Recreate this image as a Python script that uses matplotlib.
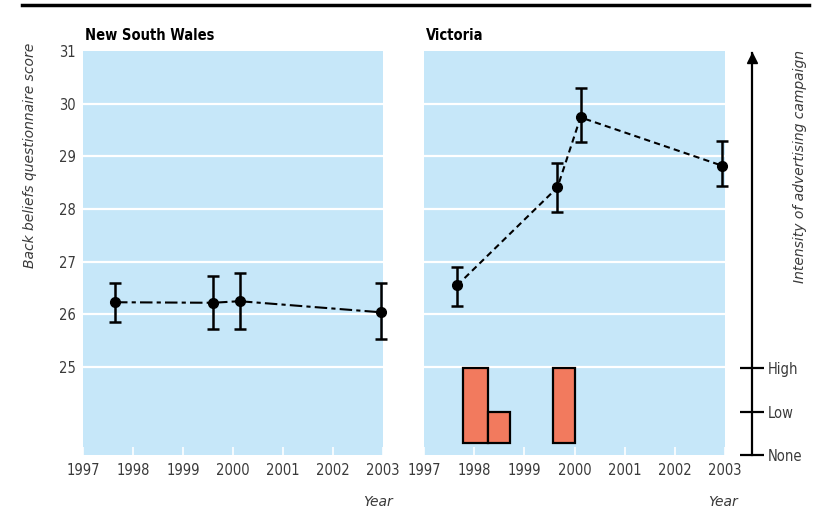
import matplotlib
matplotlib.use("Agg")
import matplotlib.pyplot as plt
from matplotlib.lines import Line2D
import numpy as np

# ---- data ----
years = [1997, 1998, 1999, 2000, 2001, 2002, 2003]
score_ticks = [25, 26, 27, 28, 29, 30, 31]

nsw_year = [1997.64, 1999.60, 2000.13, 2002.95]
nsw_score = [26.23, 26.22, 26.25, 26.04]
nsw_low = [25.86, 25.72, 25.72, 25.54]
nsw_high = [26.60, 26.72, 26.78, 26.60]

vic_year = [1997.66, 1999.66, 2000.12, 2002.95]
vic_score = [26.55, 28.41, 29.74, 28.82]
vic_low = [26.15, 27.94, 29.27, 28.43]
vic_high = [26.90, 28.87, 30.30, 29.30]

campaign_start = [1997.78, 1998.28, 1999.57]
campaign_end = [1998.28, 1998.71, 2000.01]
campaign_level = [2, 1, 2]          # 0 = None, 1 = Low, 2 = High
intensity_labels = ["None", "Low", "High"]

titles = ["New South Wales", "Victoria"]

# ---- style ----
BG = "#C6E7F9"
BAR = "#F27A5E"
TXT = "#3a3a3a"
NARROW = ["DejaVu Sans"]
W, H = 821, 509

fig = plt.figure(figsize=(W / 100, H / 100), dpi=100)

def fx(px):
    return px / W

def fy(py):
    return 1 - py / H

ax_bottom = fy(455)
ax_height = (455 - 51) / H
ax_l = fig.add_axes([fx(83), ax_bottom, fx(300), ax_height])
ax_r = fig.add_axes([fx(424), ax_bottom, fx(301), ax_height])

YMIN, YMAX = 23.33, 31.0
INT_TOP = 404 / 43.5

for ax, yr, sc, lo, hi, ls, ttl, tx in [
    (ax_l, nsw_year, nsw_score, nsw_low, nsw_high, (0, (6, 2, 2, 2)), titles[0], 85),
    (ax_r, vic_year, vic_score, vic_low, vic_high, (0, (3, 2)), titles[1], 426),
]:
    ax.set_facecolor(BG)
    for s in ax.spines.values():
        s.set_visible(False)
    ax.set_xlim(years[0], years[-1])
    ax.set_ylim(YMIN, YMAX)
    for t in score_ticks[:-1]:
        ax.axhline(t, color="white", lw=1.6, zorder=1)
    ax.set_yticks(score_ticks)
    ax.set_xticks(years)
    ax.tick_params(axis="x", direction="in", color="white", length=6, width=1.2,
                   pad=6, labelsize=10.5, labelcolor=TXT)
    ax.tick_params(axis="y", length=0, pad=5, labelsize=10.5, labelcolor=TXT)
    for lab in ax.get_xticklabels() + ax.get_yticklabels():
        lab.set_fontfamily(NARROW)
        lab.set_fontstretch("condensed")
    if ax is ax_r:
        ax.set_yticklabels([])
    yerr = [np.array(sc) - np.array(lo), np.array(hi) - np.array(sc)]
    ax.plot(yr, sc, color="black", lw=1.5, linestyle=ls, zorder=3, clip_on=False)
    ax.errorbar(yr, sc, yerr=yerr, fmt="o", color="black", ms=7, elinewidth=1.8,
                capsize=4.5, capthick=1.8, zorder=4, clip_on=False)
    fig.text(fx(tx), fy(36), ttl, fontsize=10.5, fontweight="bold",
             family=NARROW, fontstretch="condensed", color="black",
             ha="left", va="center")

# campaign bars on intensity scale
ax_int = ax_r.twinx()
ax_int.set_ylim(0, INT_TOP)
ax_int.axis("off")
widths = np.array(campaign_end) - np.array(campaign_start)
bar_base = 0.27
ax_int.bar(campaign_start, np.array(campaign_level) - bar_base, width=widths,
           bottom=bar_base, align="edge", color=BAR, edgecolor="black", lw=1.6, zorder=2)

# intensity axis
ax_i = fig.add_axes([fx(751.5), ax_bottom, 0.0001, fy(53) - ax_bottom])
ax_i.set_ylim(0, (455 - 53) / 43.5)
ax_i.set_xlim(0, 1)
ax_i.patch.set_visible(False)
for k, s in ax_i.spines.items():
    s.set_visible(k == "left")
ax_i.spines["left"].set_linewidth(1.6)
ax_i.set_xticks([])
ax_i.set_yticks([0, 1, 2])
ax_i.set_yticklabels(intensity_labels)
ax_i.yaxis.tick_right()
ax_i.tick_params(axis="y", direction="inout", length=17, width=1.6, pad=3,
                 labelsize=10.5, labelcolor=TXT, right=True, left=False)
for lab in ax_i.get_yticklabels():
    lab.set_fontfamily(NARROW)
    lab.set_fontstretch("condensed")
ax_i.plot([0], [(455 - 58) / 43.5], marker="^", color="black", ms=7,
          clip_on=False, transform=ax_i.get_yaxis_transform())

# axis labels
fig.text(fx(30), fy(43), "Back beliefs questionnaire score", rotation=90,
         ha="center", va="top", fontsize=10, style="italic", family=NARROW, color=TXT)
fig.text(fx(800), fy(50), "Intensity of advertising campaign", rotation=90,
         ha="center", va="top", fontsize=10, style="italic", family=NARROW, color=TXT)
fig.text(fx(378), fy(502), "Year", ha="center", va="center", fontsize=10,
         style="italic", family=NARROW, color=TXT)
fig.text(fx(723), fy(502), "Year", ha="center", va="center", fontsize=10,
         style="italic", family=NARROW, color=TXT)

# top rule
fig.add_artist(Line2D([fx(22), fx(809)], [fy(5), fy(5)], color="black", lw=2.5))

fig.savefig("out.png", dpi=100)
